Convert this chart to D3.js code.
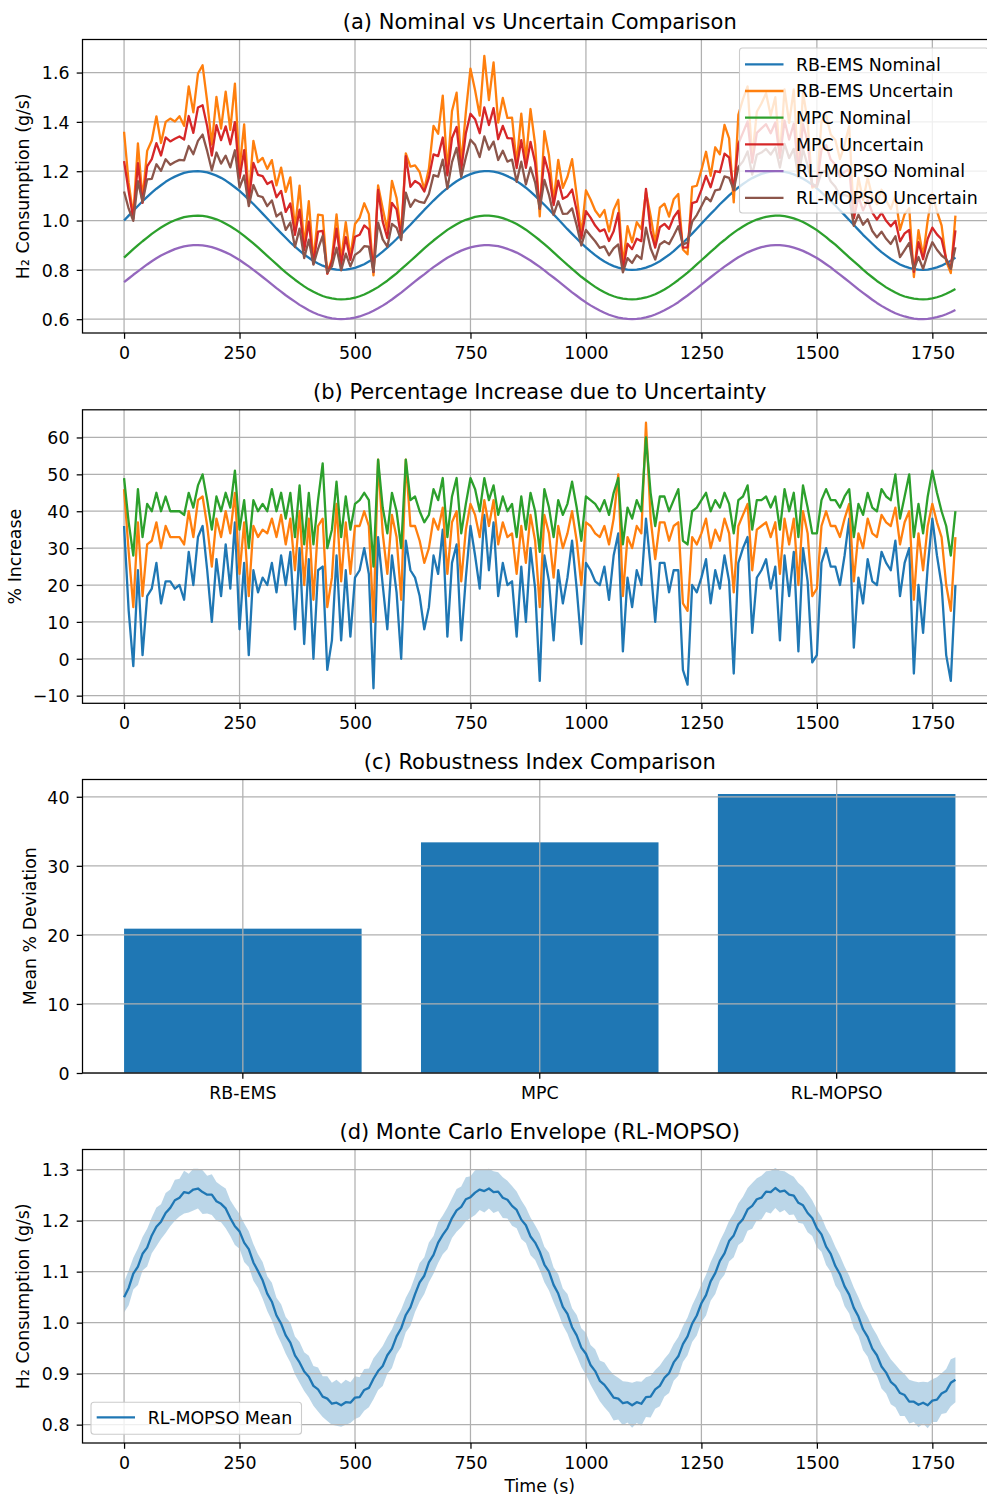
<!DOCTYPE html>
<html>
<head>
<meta charset="utf-8">
<script src="https://cdn.jsdelivr.net/npm/d3@7"></script>
<style>
  body { margin: 0; background: #fff; }
  svg { display: block; font-family: "DejaVu Sans", sans-serif; }
</style>
</head>
<body>
<svg id="chart" width="987" height="1497"></svg>
<script>
// sample times (s), one sample every 10 s
var time = d3.range(0, 1801, 10);

// nominal H2 consumption (g/s)
var rbNominal = [1.000,1.020,1.040,1.059,1.078,1.096,1.113,1.129,1.143,1.157,
1.168,1.178,1.186,1.193,1.197,1.199,1.200,1.198,1.195,1.189,
1.182,1.173,1.162,1.149,1.135,1.120,1.103,1.085,1.067,1.048,
1.028,1.008,0.988,0.968,0.949,0.930,0.911,0.894,0.878,0.862,
0.849,0.836,0.826,0.817,0.810,0.804,0.801,0.800,0.801,0.804,
0.808,0.815,0.823,0.834,0.845,0.859,0.874,0.890,0.907,0.925,
0.944,0.964,0.983,1.003,1.023,1.043,1.062,1.081,1.099,1.116,
1.131,1.146,1.159,1.170,1.180,1.188,1.194,1.198,1.200,1.200,
1.198,1.194,1.188,1.180,1.171,1.160,1.147,1.133,1.117,1.100,
1.082,1.064,1.045,1.025,1.005,0.985,0.965,0.946,0.927,0.908,
0.891,0.875,0.860,0.846,0.834,0.824,0.815,0.809,0.804,0.801,
0.800,0.801,0.804,0.809,0.816,0.825,0.835,0.848,0.861,0.876,
0.893,0.910,0.928,0.947,0.967,0.987,1.007,1.027,1.046,1.066,
1.084,1.102,1.118,1.134,1.148,1.161,1.172,1.181,1.189,1.194,
1.198,1.200,1.200,1.197,1.193,1.187,1.179,1.169,1.158,1.145,
1.130,1.114,1.097,1.079,1.061,1.041,1.022,1.002,0.982,0.962,
0.942,0.924,0.906,0.888,0.872,0.858,0.844,0.833,0.822,0.814,
0.808,0.803,0.801,0.800,0.801,0.805,0.810,0.817,0.827,0.837,0.850];

var mpcNominal = [0.850,0.867,0.884,0.900,0.916,0.931,0.946,0.959,0.972,0.983,
0.993,1.001,1.008,1.014,1.017,1.019,1.020,1.019,1.016,1.011,
1.005,0.997,0.987,0.977,0.965,0.952,0.938,0.923,0.907,0.891,
0.874,0.857,0.840,0.823,0.806,0.790,0.775,0.760,0.746,0.733,
0.721,0.711,0.702,0.694,0.688,0.684,0.681,0.680,0.681,0.683,
0.687,0.693,0.700,0.709,0.719,0.730,0.743,0.756,0.771,0.786,
0.803,0.819,0.836,0.853,0.870,0.887,0.903,0.919,0.934,0.948,
0.962,0.974,0.985,0.995,1.003,1.009,1.015,1.018,1.020,1.020,
1.018,1.015,1.010,1.003,0.995,0.986,0.975,0.963,0.949,0.935,
0.920,0.904,0.888,0.871,0.854,0.837,0.820,0.804,0.788,0.772,
0.758,0.744,0.731,0.719,0.709,0.700,0.693,0.687,0.683,0.681,
0.680,0.681,0.684,0.688,0.694,0.701,0.710,0.720,0.732,0.745,
0.759,0.774,0.789,0.805,0.822,0.839,0.856,0.873,0.889,0.906,
0.921,0.937,0.951,0.964,0.976,0.987,0.996,1.004,1.010,1.015,
1.018,1.020,1.020,1.018,1.014,1.009,1.002,0.994,0.984,0.973,
0.961,0.947,0.933,0.917,0.902,0.885,0.868,0.851,0.834,0.818,
0.801,0.785,0.770,0.755,0.742,0.729,0.718,0.708,0.699,0.692,
0.687,0.683,0.681,0.680,0.681,0.684,0.689,0.695,0.703,0.712,0.722];

var rlNominal = [0.750,0.765,0.780,0.794,0.808,0.822,0.835,0.847,0.858,0.867,
0.876,0.884,0.890,0.895,0.898,0.900,0.900,0.899,0.896,0.892,
0.886,0.879,0.871,0.862,0.851,0.840,0.827,0.814,0.800,0.786,
0.771,0.756,0.741,0.726,0.712,0.697,0.684,0.671,0.658,0.647,
0.636,0.627,0.619,0.613,0.607,0.603,0.601,0.600,0.601,0.603,
0.606,0.611,0.618,0.625,0.634,0.644,0.655,0.667,0.680,0.694,
0.708,0.723,0.738,0.753,0.768,0.782,0.797,0.811,0.824,0.837,
0.849,0.859,0.869,0.878,0.885,0.891,0.895,0.898,0.900,0.900,
0.898,0.896,0.891,0.885,0.878,0.870,0.860,0.849,0.838,0.825,
0.812,0.798,0.783,0.769,0.754,0.739,0.724,0.709,0.695,0.681,
0.668,0.656,0.645,0.635,0.626,0.618,0.612,0.606,0.603,0.601,
0.600,0.601,0.603,0.607,0.612,0.619,0.627,0.636,0.646,0.657,
0.669,0.683,0.696,0.711,0.725,0.740,0.755,0.770,0.785,0.799,
0.813,0.826,0.839,0.851,0.861,0.871,0.879,0.886,0.892,0.896,
0.899,0.900,0.900,0.898,0.895,0.890,0.884,0.877,0.868,0.858,
0.848,0.836,0.823,0.810,0.795,0.781,0.766,0.751,0.736,0.721,
0.707,0.693,0.679,0.666,0.654,0.643,0.633,0.624,0.617,0.611,
0.606,0.602,0.600,0.600,0.601,0.604,0.608,0.613,0.620,0.628,0.637];

// % increase under uncertainty
var rbIncrease = [36,13,-2,24,1,17,19,26,15,21,
21,19,20,16,29,20,33,36,24,10,
27,17,31,19,37,8,26,1,24,18,
22,20,26,18,28,20,29,8,30,4,
27,0,24,25,-3,5,28,5,24,6,
22,24,30,23,-8,33,20,8,28,18,
0,32,24,22,17,8,14,28,23,35,
6,26,31,5,22,36,28,19,39,24,
37,17,26,20,21,6,25,10,30,19,
-6,28,21,5,24,15,22,32,19,4,
26,24,21,20,25,16,28,34,2,22,
14,24,20,38,25,10,26,26,18,24,
24,-3,-7,20,18,22,27,15,24,19,
28,21,-4,26,30,33,7,22,24,27,
19,25,5,28,17,29,2,30,21,-1,
1,26,30,25,25,20,28,38,3,22,
15,27,21,20,29,26,24,32,17,26,
30,-4,20,7,25,38,28,20,1,-6,20];

var mpcIncrease = [46,29,14,37,17,31,32,37,30,36,
33,33,33,31,40,33,43,44,36,25,
38,33,40,34,45,23,37,17,36,33,
35,34,38,33,39,31,38,24,40,20,
38,16,36,38,14,22,42,21,37,23,
36,36,40,36,10,54,34,23,39,33,
16,54,36,36,32,26,30,38,35,41,
23,37,40,21,35,42,39,33,43,36,
43,31,37,33,34,23,36,26,39,32,
14,39,34,22,36,30,34,40,32,20,
37,36,34,33,36,31,38,50,17,33,
30,36,34,64,38,27,37,37,32,36,
37,15,13,33,31,34,38,30,35,32,
38,34,18,36,39,42,24,35,36,37,
33,37,23,38,31,38,20,40,34,17,
19,36,40,36,36,33,38,42,21,34,
30,38,34,33,39,37,36,41,31,37,
40,16,34,24,36,42,37,33,20,13,33];

var rlIncrease = [49,37,28,46,33,42,40,45,40,44,
40,40,40,39,45,41,47,50,43,35,
44,40,45,41,51,35,43,30,43,40,
42,40,46,40,45,38,45,33,47,31,
45,31,43,53,30,35,48,33,44,35,
42,43,45,43,25,54,41,34,45,40,
30,54,43,44,40,37,39,46,43,49,
33,44,49,34,42,49,46,40,49,43,
47,39,44,40,42,33,44,35,45,40,
29,46,41,33,43,39,42,48,41,32,
44,43,42,40,43,39,45,49,31,41,
38,43,40,60,45,36,44,44,40,43,
46,32,31,40,41,43,45,40,43,41,
45,42,34,43,44,47,35,43,43,44,
41,44,35,46,40,45,33,47,41,34,
34,43,46,43,43,41,44,46,33,42,
39,45,41,40,46,44,43,50,38,44,
50,33,42,34,44,51,45,40,36,28,40];

// robustness index (mean % deviation)
var methods = ["RB-EMS", "MPC", "RL-MOPSO"];
var robustness = [20.9, 33.4, 40.4];

// Monte Carlo mean and half-width of the envelope for RL-MOPSO
var mcMean = [1.050,1.068,1.096,1.110,1.135,1.147,1.171,1.188,1.198,1.215,
1.225,1.240,1.245,1.256,1.254,1.261,1.263,1.256,1.251,1.251,
1.238,1.233,1.224,1.205,1.189,1.179,1.157,1.144,1.118,1.101,
1.083,1.057,1.041,1.014,0.998,0.975,0.961,0.936,0.922,0.904,
0.894,0.876,0.869,0.855,0.851,0.841,0.843,0.838,0.844,0.843,
0.853,0.854,0.868,0.872,0.890,0.905,0.915,0.936,0.949,0.973,
0.989,1.015,1.030,1.056,1.079,1.092,1.118,1.133,1.157,1.172,
1.185,1.205,1.220,1.227,1.242,1.246,1.255,1.261,1.258,1.263,
1.256,1.257,1.245,1.241,1.229,1.221,1.202,1.191,1.169,1.157,
1.139,1.114,1.100,1.074,1.057,1.031,1.017,0.991,0.975,0.951,
0.939,0.917,0.905,0.886,0.878,0.866,0.853,0.851,0.842,0.844,
0.838,0.844,0.841,0.854,0.855,0.869,0.876,0.892,0.901,0.922,
0.934,0.958,0.973,0.998,1.014,1.038,1.054,1.081,1.097,1.121,
1.136,1.160,1.171,1.193,1.203,1.222,1.229,1.242,1.245,1.257,
1.256,1.264,1.257,1.259,1.251,1.249,1.235,1.230,1.215,1.205,
1.185,1.173,1.149,1.135,1.111,1.095,1.071,1.055,1.029,1.012,
0.987,0.972,0.949,0.936,0.914,0.902,0.884,0.876,0.862,0.858,
0.845,0.845,0.839,0.843,0.838,0.847,0.849,0.861,0.866,0.882,0.888];

var mcSpread = [.030,.034,.031,.036,.033,.037,.035,.038,.034,.039,
.036,.040,.037,.042,.038,.041,.039,.043,.037,.040,
.038,.036,.039,.035,.037,.034,.038,.035,.036,.033,
.036,.034,.037,.035,.038,.036,.039,.037,.040,.038,
.041,.039,.043,.040,.044,.041,.045,.042,.044,.040,
.042,.039,.041,.038,.040,.037,.039,.036,.038,.035,
.037,.034,.036,.035,.038,.036,.039,.037,.040,.038,
.041,.039,.042,.040,.043,.041,.044,.040,.042,.039,
.041,.038,.040,.037,.039,.036,.038,.035,.037,.034,
.036,.035,.037,.034,.038,.036,.039,.037,.040,.038,
.041,.039,.043,.040,.044,.042,.045,.041,.043,.040,
.044,.041,.043,.039,.041,.038,.040,.037,.039,.036,
.038,.035,.037,.036,.039,.037,.040,.038,.041,.039,
.042,.040,.043,.041,.044,.042,.045,.041,.043,.040,
.042,.039,.041,.038,.040,.037,.039,.036,.038,.035,
.037,.034,.036,.035,.038,.036,.039,.037,.040,.038,
.041,.039,.042,.040,.043,.041,.044,.042,.045,.041,
.043,.040,.044,.041,.045,.042,.044,.040,.043,.046,.044];

// tick labels
var timeTicks = [0, 250, 500, 750, 1000, 1250, 1500, 1750];
var ticksA = [0.6, 0.8, 1.0, 1.2, 1.4, 1.6];
var ticksB = [-10, 0, 10, 20, 30, 40, 50, 60];
var ticksC = [0, 10, 20, 30, 40];
var ticksD = [0.8, 0.9, 1.0, 1.1, 1.2, 1.3];

// uncertain curves = nominal * (1 + increase)
function withIncrease(nom, inc) {
  return nom.map(function(v, i) { return v * (1 + inc[i] / 100); });
}
var rbUncertain = withIncrease(rbNominal, rbIncrease);
var mpcUncertain = withIncrease(mpcNominal, mpcIncrease);
var rlUncertain = withIncrease(rlNominal, rlIncrease);

var C = ["#1f77b4", "#ff7f0e", "#2ca02c", "#d62728", "#9467bd", "#8c564b"];

// layout
var L = 82.5, R = 997, PH = 293.5;
var tops = [39.5, 409.8, 779.5, 1149.5];
var fs = 17.4;
var lw = 2.3;
var gridColor = "#b0b0b0";

var svg = d3.select("#chart");
var x = d3.scaleLinear().domain([-90, 1890]).range([L, R]);

function grid(g, xs, ys, top) {
  g.selectAll(null).data(xs).enter().append("line")
    .attr("x1", d => d).attr("x2", d => d)
    .attr("y1", top).attr("y2", top + PH)
    .attr("stroke", gridColor).attr("stroke-width", 1.25);
  g.selectAll(null).data(ys).enter().append("line")
    .attr("x1", L).attr("x2", R)
    .attr("y1", d => d).attr("y2", d => d)
    .attr("stroke", gridColor).attr("stroke-width", 1.25);
}

function frame(top, y, yTicks, yFmt, title, ylabel, labelX) {
  var g = svg.append("g");
  g.append("rect").attr("x", L).attr("y", top).attr("width", R - L).attr("height", PH)
    .attr("fill", "none").attr("stroke", "#000").attr("stroke-width", 1.25);

  var ya = g.append("g").attr("transform", "translate(" + L + ",0)")
    .call(d3.axisLeft(y).tickValues(yTicks).tickFormat(yFmt).tickSize(5.8).tickPadding(7.2).tickSizeOuter(0));
  ya.select(".domain").remove();
  ya.selectAll("line").attr("stroke", "#000").attr("stroke-width", 1.25);
  ya.selectAll("text").attr("font-size", fs).attr("font-family", "DejaVu Sans")
    .attr("fill", "#000").attr("dy", "0.36em");

  g.append("text").attr("x", (L + R) / 2).attr("y", top - 10.5)
    .attr("text-anchor", "middle").attr("font-size", 21).text(title);

  g.append("text")
    .attr("transform", "translate(" + labelX + "," + (top + PH / 2) + ") rotate(-90)")
    .attr("text-anchor", "middle").attr("font-size", fs).text(ylabel);
  return g;
}

function timeAxis(top) {
  var xa = svg.append("g").attr("transform", "translate(0," + (top + PH) + ")")
    .call(d3.axisBottom(x).tickValues(timeTicks).tickFormat(d3.format("d")).tickSize(5.8).tickPadding(8).tickSizeOuter(0));
  xa.select(".domain").remove();
  xa.selectAll("line").attr("stroke", "#000").attr("stroke-width", 1.25);
  xa.selectAll("text").attr("font-size", fs).attr("font-family", "DejaVu Sans").attr("fill", "#000");
}

function drawLine(g, y, values, color) {
  var line = d3.line().x((d, i) => x(time[i])).y(d => y(d));
  g.append("path").datum(values).attr("d", line)
    .attr("fill", "none").attr("stroke", color).attr("stroke-width", lw)
    .attr("stroke-linejoin", "round");
}

// ---------- (a) ----------
var yA = d3.scaleLinear().domain([0.544, 1.734]).range([tops[0] + PH, tops[0]]);
var gA = svg.append("g");
grid(gA, timeTicks.map(x), ticksA.map(yA), tops[0]);
var seriesA = [rbNominal, rbUncertain, mpcNominal, mpcUncertain, rlNominal, rlUncertain];
seriesA.forEach(function(s, i) { drawLine(gA, yA, s, C[i]); });
frame(tops[0], yA, ticksA, d3.format(".1f"), "(a) Nominal vs Uncertain Comparison", "H\u2082 Consumption (g/s)", 29);
timeAxis(tops[0]);

var legA = ["RB-EMS Nominal", "RB-EMS Uncertain", "MPC Nominal", "MPC Uncertain", "RL-MOPSO Nominal", "RL-MOPSO Uncertain"];
var lg = svg.append("g");
lg.append("rect").attr("x", 739.5).attr("y", 48).attr("width", 249).attr("height", 165)
  .attr("rx", 3).attr("fill", "#fff").attr("fill-opacity", 0.8)
  .attr("stroke", "#cccccc").attr("stroke-width", 1.1);
legA.forEach(function(t, i) {
  var cy = 64.3 + i * 26.7;
  lg.append("line").attr("x1", 745).attr("x2", 783.5).attr("y1", cy).attr("y2", cy)
    .attr("stroke", C[i]).attr("stroke-width", lw);
  lg.append("text").attr("x", 796).attr("y", cy + 6.2).attr("font-size", fs).text(t);
});

// ---------- (b) ----------
var yB = d3.scaleLinear().domain([-12.07, 67.5]).range([tops[1] + PH, tops[1]]);
var gB = svg.append("g");
grid(gB, timeTicks.map(x), ticksB.map(yB), tops[1]);
[rbIncrease, mpcIncrease, rlIncrease].forEach(function(s, i) { drawLine(gB, yB, s, C[i]); });
frame(tops[1], yB, ticksB, d3.format("d"), "(b) Percentage Increase due to Uncertainty", "% Increase", 21);
timeAxis(tops[1]);

// ---------- (c) ----------
var yC = d3.scaleLinear().domain([0, 42.5]).range([tops[2] + PH, tops[2]]);
var xC = d3.scaleBand().domain(methods).range([L, R]).paddingInner(0.2).paddingOuter(0.14);
var gC = svg.append("g");
gC.selectAll("rect").data(robustness).enter().append("rect")
  .attr("x", (d, i) => xC(methods[i]))
  .attr("width", xC.bandwidth())
  .attr("y", d => yC(d))
  .attr("height", d => yC(0) - yC(d))
  .attr("fill", C[0]);
grid(gC, methods.map(m => xC(m) + xC.bandwidth() / 2), ticksC.map(yC), tops[2]);
frame(tops[2], yC, ticksC, d3.format("d"), "(c) Robustness Index Comparison", "Mean % Deviation", 36);
var xaC = svg.append("g").attr("transform", "translate(0," + (tops[2] + PH) + ")")
  .call(d3.axisBottom(xC).tickSize(5.8).tickPadding(8).tickSizeOuter(0));
xaC.select(".domain").remove();
xaC.selectAll("line").attr("stroke", "#000").attr("stroke-width", 1.25);
xaC.selectAll("text").attr("font-size", fs).attr("font-family", "DejaVu Sans").attr("fill", "#000");

// ---------- (d) ----------
var yD = d3.scaleLinear().domain([0.764, 1.3395]).range([tops[3] + PH, tops[3]]);
var gD = svg.append("g");
var band = d3.area()
  .x((d, i) => x(time[i]))
  .y0((d, i) => yD(d - mcSpread[i]))
  .y1((d, i) => yD(d + mcSpread[i]));
gD.append("path").datum(mcMean).attr("d", band)
  .attr("fill", C[0]).attr("fill-opacity", 0.3);
grid(gD, timeTicks.map(x), ticksD.map(yD), tops[3]);
drawLine(gD, yD, mcMean, C[0]);
frame(tops[3], yD, ticksD, d3.format(".1f"), "(d) Monte Carlo Envelope (RL-MOPSO)", "H\u2082 Consumption (g/s)", 29);
timeAxis(tops[3]);

var lgD = svg.append("g");
lgD.append("rect").attr("x", 91).attr("y", 1402.3).attr("width", 210.5).attr("height", 32)
  .attr("rx", 3).attr("fill", "#fff").attr("fill-opacity", 0.8)
  .attr("stroke", "#cccccc").attr("stroke-width", 1.1);
lgD.append("line").attr("x1", 96.7).attr("x2", 135).attr("y1", 1417.3).attr("y2", 1417.3)
  .attr("stroke", C[0]).attr("stroke-width", lw);
lgD.append("text").attr("x", 147.7).attr("y", 1423.5).attr("font-size", fs).text("RL-MOPSO Mean");

svg.append("text").attr("x", (L + R) / 2).attr("y", 1492)
  .attr("text-anchor", "middle").attr("font-size", fs).text("Time (s)");
</script>
</body>
</html>
